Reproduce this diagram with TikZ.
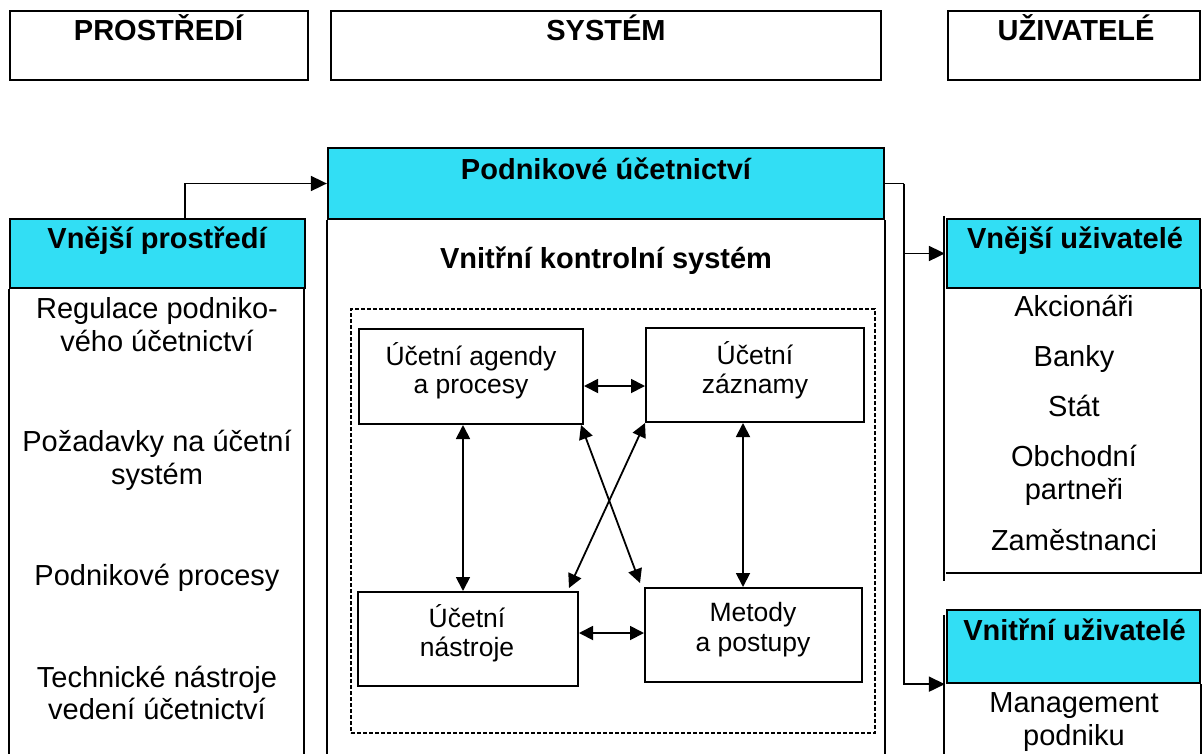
\documentclass[tikz,border=0pt]{standalone}
\usepackage{fontspec}
\setmainfont{Liberation Sans}
\usetikzlibrary{arrows.meta}
\definecolor{hdcyan}{RGB}{50,222,244}
\begin{document}
\begin{tikzpicture}[x=1pt,y=-1pt,
  frame/.style={draw=black,line width=2.3pt,inner sep=0pt},
  hdr/.style={frame,fill=hdcyan},
  big/.style={font=\fontsize{29}{33}\selectfont, inner sep=0pt, anchor=base},
  bigb/.style={font=\fontsize{29}{33}\selectfont\bfseries, inner sep=0pt, anchor=base},
  small/.style={font=\fontsize{26.5}{30}\selectfont, inner sep=0pt, anchor=base},
  ibox/.style={draw=black,line width=2pt,inner sep=0pt},
  dbox/.style={draw=black,line width=1.8pt,dash pattern=on 4pt off 2pt,inner sep=0pt},
  con/.style={line width=1.8pt},
  arr/.style={con,-{Triangle[length=16pt,width=15pt]}},
  darr/.style={con,{Triangle[length=14pt,width=14pt]}-{Triangle[length=14pt,width=14pt]}},
]
\useasboundingbox (0,0) rectangle (1202,753);

% top boxes
\node[frame, minimum width=298pt, minimum height=69pt] (envtop) at (159,45.5) {};
\node[frame, minimum width=550pt, minimum height=69pt] (systop) at (606,45.5) {};
\node[frame, minimum width=252pt, minimum height=69pt] (usrtop) at (1074,45.5) {};
\node[bigb] (tenv) at (158.5,40) {PROSTŘEDÍ};
\node[bigb] (tsys) at (606,40) {SYSTÉM};
\node[bigb] (tusr) at (1076,40) {UŽIVATELÉ};

% headers
\node[hdr, minimum width=556pt, minimum height=71pt] (pod) at (606,183.5) {};
\node[hdr, minimum width=295pt, minimum height=69pt] (ext) at (157.5,253.5) {};
\node[hdr, minimum width=253pt, minimum height=69pt] (vext) at (1073.5,253.5) {};
\node[hdr, minimum width=253pt, minimum height=73pt] (vint) at (1073.5,646.5) {};
\node[bigb] (tpod) at (606,179) {Podnikové účetnictví};
\node[bigb] (text) at (157,248) {Vnější prostředí};
\node[bigb] (tvext) at (1075,248) {Vnější uživatelé};
\node[bigb] (tvint) at (1074.5,640) {Vnitřní uživatelé};

% body lines
\draw[line width=2.3pt] (pod.south west) -- ++(0,540);
\draw[line width=2.3pt] (pod.south east) -- ++(0,540);
\draw[line width=2.3pt] (ext.south west) -- ++(0,470);
\draw[line width=2.3pt] ([xshift=-2pt]ext.south east) -- ++(0,470);
\draw[line width=2pt] (vext.north west) ++(-2,-2) -- ++(0,365);
\draw[line width=2.3pt] (vext.south west |- 0,573) -- (vext.south east |- 0,573) -- (vext.south east);
\draw[line width=2pt] (vint.north west) ++(-2,6) -- ++(0,140);
\draw[line width=2.3pt] (vint.south east) -- ++(0,75);

% left list
\node[big] (l1a) at (157,318) {Regulace podniko-};
\node[big] (l1b) at (157,351) {vého účetnictví};
\node[big] (l2a) at (157,451) {Požadavky na účetní};
\node[big] (l2b) at (157,484) {systém};
\node[big] (l3) at (157,585) {Podnikové procesy};
\node[big] (l4a) at (157,687) {Technické nástroje};
\node[big] (l4b) at (157,719) {vedení účetnictví};

% right list
\node[big] (r1) at (1074,316) {Akcionáři};
\node[big] (r2) at (1074,366) {Banky};
\node[big] (r3) at (1074,416) {Stát};
\node[big] (r4a) at (1074,466) {Obchodní};
\node[big] (r4b) at (1074,499) {partneři};
\node[big] (r5) at (1074,550) {Zaměstnanci};
\node[big] (m1) at (1074,712) {Management};
\node[big] (m2) at (1074,745) {podniku};

% system interior
\node[bigb] (tvks) at (606,268) {Vnitřní kontrolní systém};
\node[dbox, minimum width=524pt, minimum height=424pt] (kont) at (613,521) {};

\node[ibox, minimum width=224pt, minimum height=95pt] (agendy) at (471,376.5) {};
\node[ibox, minimum width=218pt, minimum height=94pt] (zaz) at (755,375) {};
\node[ibox, minimum width=220pt, minimum height=94pt] (nast) at (468,639) {};
\node[ibox, minimum width=217pt, minimum height=94pt] (met) at (753.5,635) {};

\node[small] (a1) at (471,365) {Účetní agendy};
\node[small] (a2) at (471,393) {a procesy};
\node[small] (z1) at (755,364) {Účetní};
\node[small] (z2) at (755,393) {záznamy};
\node[small] (n1) at (467,627) {Účetní};
\node[small] (n2) at (467,656) {nástroje};
\node[small] (p1) at (753,621) {Metody};
\node[small] (p2) at (753,651) {a postupy};

% connectors
\draw[arr] (ext.north -| 185,0) |- (pod.west);
\draw[con] (pod.east) -- ++(19,0) coordinate (jn);
\draw[arr] (jn) |- ([xshift=-1pt]vint.south west);
\draw[arr] (jn |- vext.west) -- ([xshift=-1pt]vext.west);

\draw[darr] (agendy.east |- 0,386) -- (zaz.west |- 0,386);
\draw[darr] (nast.east |- 0,633) -- (met.west |- 0,633);
\draw[darr] (agendy.south -| 463,0) -- (nast.north -| 463,0);
\draw[darr] (zaz.south -| 743,0) -- (met.north -| 743,0);
\draw[darr] ([xshift=-3pt]agendy.south east) -- ([shift={(-4pt,4pt)}]met.north west);
\draw[darr] (zaz.south west) -- ([shift={(-10pt,3pt)}]nast.north east);
\end{tikzpicture}
\end{document}
